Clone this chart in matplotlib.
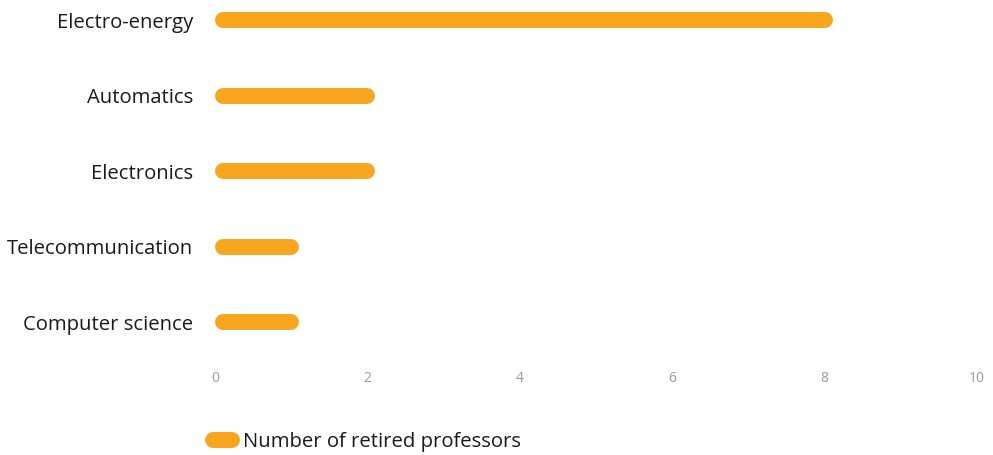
import matplotlib
matplotlib.use('Agg')
import matplotlib.pyplot as plt
import matplotlib.transforms as mtransforms
from matplotlib.lines import Line2D

plt.rcParams['font.family'] = ['Open Sans', 'DejaVu Sans']

# Retired professors per department
departments = ['Electro-energy', 'Automatics', 'Electronics',
               'Telecommunication', 'Computer science']
retired = [8, 2, 2, 1, 1]
series_label = 'Number of retired professors'
x_ticks = [0, 2, 4, 6, 8, 10]

BAR_COLOR = '#F9A61F'
TEXT_COLOR = '#1a1a1a'
TICK_COLOR = '#9a9a9a'

W, H = 993, 455
fig = plt.figure(figsize=(W / 100, H / 100), dpi=100)
ax_left, ax_right = 215, 977
ax = fig.add_axes([ax_left / W, (H - 360) / H, (ax_right - ax_left) / W, 360 / H])
ax.set_xlim(0, 10)
ax.set_ylim(4.5, -0.265)

# pill-shaped bars: round caps; the left cap starts at zero and the
# right cap runs past the value by one radius
bar_lw = 11.5
cap_in = bar_lw / 2 / 72
cap_data = cap_in * 100 * 10 / (ax_right - ax_left)
shift = mtransforms.ScaledTranslation(cap_in, 0, fig.dpi_scale_trans)
ypos = list(range(len(departments)))
lc = ax.hlines(ypos, 0, [v - cap_data for v in retired], colors=BAR_COLOR,
               linewidth=bar_lw, transform=ax.transData + shift)
lc.set_capstyle('round')

ax.set_xticks(x_ticks)
ax.set_xticklabels([str(t) for t in x_ticks])
ax.set_yticks(ypos)
ax.set_yticklabels(departments)
ax.tick_params(axis='x', length=0, pad=8, labelsize=10, labelcolor=TICK_COLOR)
ax.tick_params(axis='y', length=0, pad=16, labelsize=14.6, labelcolor=TEXT_COLOR)
for s in ax.spines.values():
    s.set_visible(False)

handle = Line2D([0], [0], color=BAR_COLOR, lw=bar_lw, solid_capstyle='round')
leg = fig.legend([handle], [series_label], loc='center left',
                 bbox_to_anchor=(213 / W, (H - 442) / H), frameon=False,
                 fontsize=14.6, handlelength=0.95, handletextpad=0.55,
                 borderpad=0, borderaxespad=0)
for t in leg.get_texts():
    t.set_color(TEXT_COLOR)

fig.savefig('out.png', dpi=100)
